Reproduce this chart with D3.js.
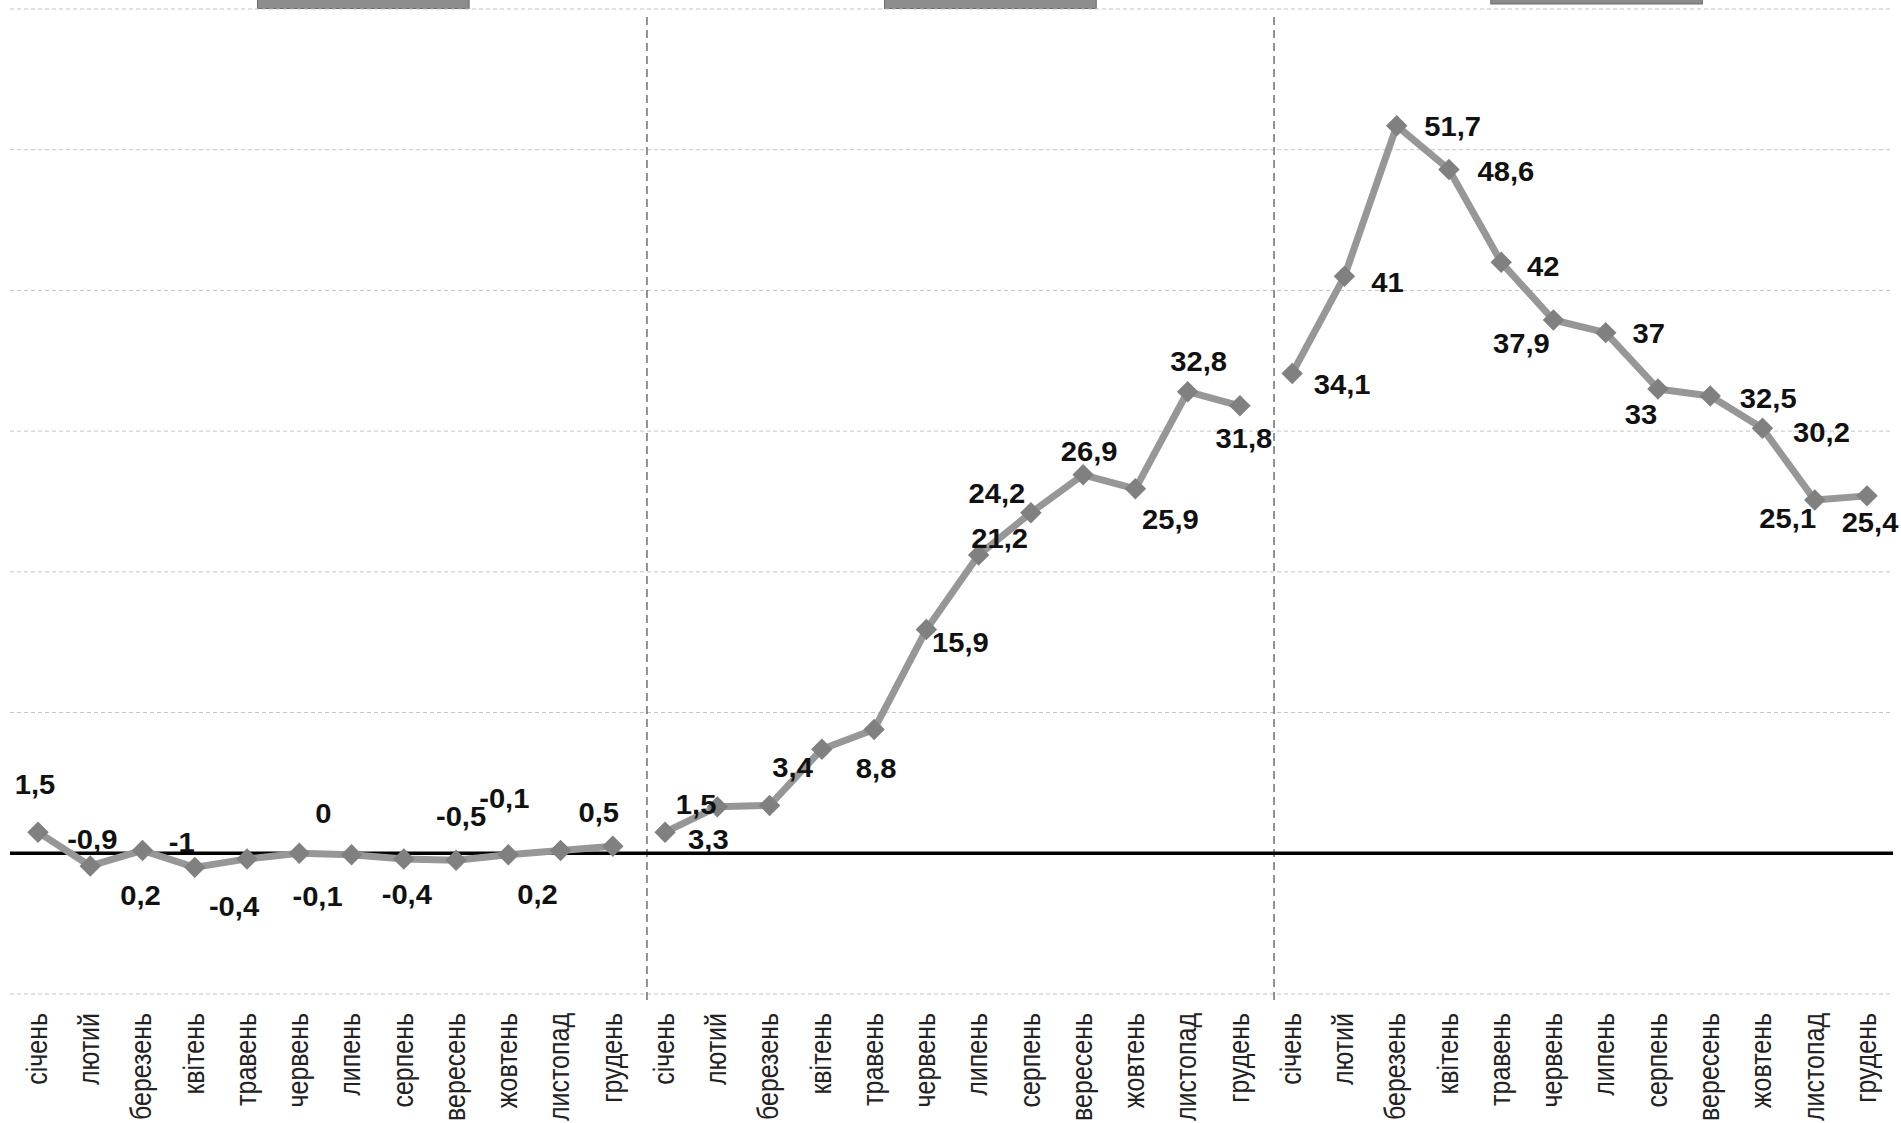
<!DOCTYPE html>
<html>
<head>
<meta charset="utf-8">
<script src="https://cdn.jsdelivr.net/npm/d3@7"></script>
<style>
  body { margin: 0; background: #fff; }
  svg { display: block; }
  .grid line { stroke: #c4c4c4; stroke-width: 1; stroke-dasharray: 4,3; }
  .sep { stroke: #6f6f6f; stroke-width: 1.5; stroke-dasharray: 8,5; }
  .zero { stroke: #000; stroke-width: 3.5; }
  .series { fill: none; stroke: #979797; stroke-width: 7; stroke-linejoin: round; }
  .marker { fill: #808080; }
  .val { font-family: "Liberation Sans", Arial, sans-serif; font-weight: bold; font-size: 27px; fill: #111; }
  .tick-label { font-family: "Liberation Sans", Arial, sans-serif; font-size: 25px; fill: #222; }
  .cap { fill: #8c8c8c; stroke: #6a6a6a; stroke-width: 1; }
</style>
</head>
<body>
<div id="chart"></div>
<script>
const months = ["січень", "лютий", "березень", "квітень", "травень", "червень",
  "липень", "серпень", "вересень", "жовтень", "листопад", "грудень"];

const period1 = [1.5, -0.9, 0.2, -1, -0.4, 0, -0.1, -0.4, -0.5, -0.1, 0.2, 0.5];
const period2 = [1.5, 3.3, 3.4, 7.4, 8.8, 15.9, 21.2, 24.2, 26.9, 25.9, 32.8, 31.8];
const period3 = [34.1, 41, 51.7, 48.6, 42, 37.9, 37, 33, 32.5, 30.2, 25.1, 25.4];

const yTicks = [-10, 0, 10, 20, 30, 40, 50, 60];

// where each value label sits relative to its marker (null = not shown)
const labelShift1 = [[-3, -48], [2, -27], [-2, 45], [-13, -25], [-13, 47], [24, -40],
  [-34, 42], [3, 35], [5, -44], [-4, -56], [-23, 44], [-14, -34]];
const labelShift2 = [[31, -28], [-9, 32], [23, -38], null, [2, 39], [34, 13],
  [21, -17], [-34, -19], [6, -23], [35, 30], [11, -30], [4, 32]];
const labelShift3 = [[50, 11], [43, 6], [56, 0], [57, 2], [42, 4], [-32, 23],
  [43, 1], [-17, 25], [58, 2], [59, 4], [-27, 18], [3, 26]];

const width = 1901, height = 1123;
const left = 10, right = 1893;

const series = [period1, period2, period3].map((vals, p) => ({
  points: vals.map((v, i) => ({ key: p * 12 + i, month: months[i], value: v,
    shift: [labelShift1, labelShift2, labelShift3][p][i] }))
}));
const allPoints = series.flatMap(s => s.points);

const svg = d3.select("#chart").append("svg")
  .attr("width", width)
  .attr("height", height);

const x = d3.scalePoint()
  .domain(allPoints.map(d => d.key))
  .range([38, 1867]);
const step = x.step();

const y = d3.scaleLinear()
  .domain([-10, 60])
  .range([994, 9]);

// cut-off boxes at the very top
const caps = [[4.7, 8.5], [16.7, 8.5], [28.3, 4]];
svg.selectAll(".cap")
  .data(caps)
  .enter().append("rect")
  .attr("class", "cap")
  .attr("x", d => x(0) - step / 2 + d[0] * step)
  .attr("y", -2)
  .attr("width", 4.05 * step)
  .attr("height", d => d[1] + 2);

// horizontal grid
svg.append("g")
  .attr("class", "grid")
  .selectAll("line")
  .data(yTicks.filter(t => t !== 0))
  .enter().append("line")
  .attr("x1", left).attr("x2", right)
  .attr("y1", d => y(d)).attr("y2", d => y(d));

// panel separators
[11, 23].forEach(k => {
  const sx = (x(k) + x(k + 1)) / 2 + 8;
  svg.append("line")
    .attr("class", "sep")
    .attr("x1", sx).attr("x2", sx)
    .attr("y1", y(60) + 8).attr("y2", y(-10) + 6);
});

svg.append("line")
  .attr("class", "zero")
  .attr("x1", left).attr("x2", right)
  .attr("y1", y(0)).attr("y2", y(0));

const line = d3.line()
  .x(d => x(d.key))
  .y(d => y(d.value));

svg.selectAll(".series")
  .data(series)
  .enter().append("path")
  .attr("class", "series")
  .attr("d", d => line(d.points));

svg.selectAll(".marker")
  .data(allPoints)
  .enter().append("path")
  .attr("class", "marker")
  .attr("d", d3.symbol(d3.symbolSquare, 230))
  .attr("transform", d => `translate(${x(d.key)},${y(d.value)}) rotate(45)`);

const fmt = v => String(v).replace(".", ",");

svg.selectAll(".val")
  .data(allPoints.filter(d => d.shift))
  .enter().append("text")
  .attr("class", "val")
  .attr("text-anchor", "middle")
  .attr("dy", "0.36em")
  .attr("transform", d => `translate(${x(d.key) + d.shift[0]},${y(d.value) + d.shift[1]}) scale(1.08,1)`)
  .text(d => fmt(d.value));

// month labels, rotated
svg.selectAll(".tick-label")
  .data(allPoints)
  .enter().append("text")
  .attr("class", "tick-label")
  .attr("text-anchor", "end")
  .attr("dy", "0.3em")
  .attr("transform", d => `translate(${x(d.key)},1013) scale(1.17,1) rotate(-90)`)
  .text(d => d.month);
</script>
</body>
</html>
